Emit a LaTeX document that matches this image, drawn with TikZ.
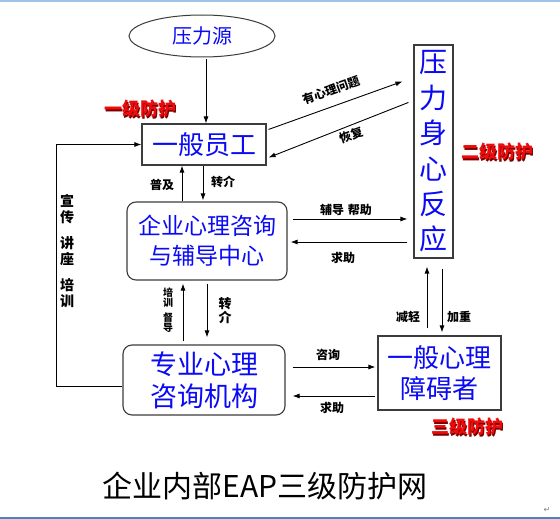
\documentclass[tikz,border=0pt]{standalone}
\usepackage{fontspec}
\newfontfamily\cjk{Noto Sans CJK SC}
\newfontfamily\symfont{DejaVu Sans}
\usetikzlibrary{shapes.geometric,arrows.meta,calc}
\definecolor{boxline}{RGB}{60,60,60}
\definecolor{txtblue}{RGB}{10,10,245}
\definecolor{topline}{RGB}{157,195,230}
\definecolor{botline}{RGB}{79,129,189}
\definecolor{protred}{RGB}{240,10,10}
\definecolor{protshadow}{RGB}{120,0,0}
\begin{document}
\begin{tikzpicture}[x=1pt,y=-1pt,
  font=\cjk,
  sqbox/.style={draw=boxline, line width=1.1pt, fill=white, inner sep=0pt, align=center, text=txtblue},
  rbox/.style={sqbox, rounded corners=9pt},
  arr/.style={draw=black, line width=0.9pt, -{Latex[length=7pt,width=5pt]}},
  lbl/.style={font=\cjk\bfseries\fontsize{12}{14}\selectfont, text=black, inner sep=0pt, align=center},
  protlbl/.style={font=\cjk\bfseries\fontsize{18}{20}\selectfont, inner sep=0pt}
]
\useasboundingbox (0,0) rectangle (560,519);
\fill[white] (0,0) rectangle (560,519);
\fill[topline] (0,0) rectangle (560,2.5);
\fill[botline] (0,517.3) rectangle (560,519);

% nodes
\node[ellipse, draw=boxline, line width=1pt, minimum width=146pt, minimum height=42pt, inner sep=0pt,
  text=txtblue, font=\cjk\fontsize{20}{22}\selectfont] (src) at (202,36) {压力源};
\node[sqbox, minimum width=124pt, minimum height=41pt, font=\cjk\fontsize{26}{30}\selectfont] (emp) at (204,144.5) {一般员工};
\node[sqbox, minimum width=39pt, minimum height=213pt, font=\cjk\fontsize{28}{35.4}\selectfont] (psy) at (433.5,151.5) {压\\力\\身\\心\\反\\应};
\node[rbox, minimum width=160pt, minimum height=78pt, font=\cjk\fontsize{23}{30}\selectfont] (ctr) at (207,241) {企业心理咨询\\与辅导中心};
\node[rbox, minimum width=162pt, minimum height=70pt, font=\cjk\fontsize{27}{32}\selectfont] (pro) at (204,380) {专业心理\\咨询机构};
\node[sqbox, minimum width=123pt, minimum height=74pt, font=\cjk\fontsize{26}{31}\selectfont] (rec) at (439.5,373) {一般心理\\障碍者};

% protection labels (shadow + red)
\node[protlbl, text=protshadow] at (141.5,110.5) {一级防护};
\node[protlbl, text=protred] (p1) at (140,109) {一级防护};
\node[protlbl, text=protshadow] at (498.5,153.5) {二级防护};
\node[protlbl, text=protred] (p2) at (497,152) {二级防护};
\node[protlbl, text=protshadow] at (468.5,428.5) {三级防护};
\node[protlbl, text=protred] (p3) at (467,427) {三级防护};

% connectors
\draw[arr] ($(src.south)+(4,2)$) -- ($(emp.north)+(2,0)$);

\draw[arr] ($(emp.north east)+(2,6)$) -- ($(psy.north west)+(-11,37)$);
\draw[arr] ($(psy.north west)+(-5,58)$) -- ($(emp.south east)+(2,-8)$);
\node[lbl, rotate=19.6] (l1) at (331,90) {有心理问题};
\node[lbl, rotate=19.6] (l2) at (351,135) {恢复};

\draw[arr] ($(ctr.north)+(-25,0)$) -- ($(emp.south)+(-22,0)$);
\draw[arr] ($(emp.south)+(-1,0)$) -- ($(ctr.north)+(-4,-1)$);
\node[lbl] (l3) at (162,185) {普及};
\node[lbl] (l4) at (223,182) {转介};

\draw[arr] ($(pro.north)+(-21,-3)$) -- ($(ctr.south)+(-24,3)$);
\draw[arr] ($(ctr.south)+(0,3)$) -- ($(pro.north)+(3,-7)$);
\node[lbl, font=\cjk\bfseries\fontsize{10}{10.5}\selectfont] (l5) at (168,310) {培\\训\\[4pt]督\\导};
\node[lbl, font=\cjk\bfseries\fontsize{13}{14}\selectfont] (l6) at (225,311) {转\\介};

\coordinate (a1) at ($(ctr.east)+(5,-22)$);
\draw[arr, shorten >=6pt] (a1) -- (a1 -| psy.west);
\coordinate (a2) at ($(ctr.east)+(3,1)$);
\draw[arr, shorten <=6pt] (a2 -| psy.west) -- (a2);
\node[lbl] (l7) at (346,210) {辅导\,\,帮助};
\node[lbl] (l8) at (343,258) {求助};

\draw[arr] ($(rec.north)+(-12.5,-7)$) -- ($(psy.south)+(-6.5,8)$);
\draw[arr] ($(psy.south)+(8.5,10)$) -- ($(rec.north)+(2.5,-3)$);
\node[lbl] (l9) at (408,317) {减轻};
\node[lbl] (l10) at (459,317) {加重};

\coordinate (b1) at ($(pro.east)+(7,-13)$);
\draw[arr, shorten >=2pt] (b1) -- (b1 -| rec.west);
\coordinate (b2) at ($(pro.east)+(7,16)$);
\draw[arr, shorten <=2pt] (b2 -| rec.west) -- (b2);
\node[lbl] (l11) at (328,355) {咨询};
\node[lbl] (l12) at (332,408) {求助};

\draw[arr] ($(pro.west)+(0,6)$) -- ++(-66,0) |- (emp.west);
\node[lbl, font=\cjk\bfseries\fontsize{14}{16}\selectfont] (l13) at (67,251) {宣\\传\\[10pt]讲\\座\\[10pt]培\\训};

% title
\node[inner sep=0pt, font=\cjk\fontsize{30}{32}\selectfont] (title) at (265,486) {企业内部EAP三级防护网};
\node[inner sep=0pt, text=gray, font=\symfont\fontsize{8}{8}\selectfont] (ret) at (547,510) {↵};
\end{tikzpicture}
\end{document}
